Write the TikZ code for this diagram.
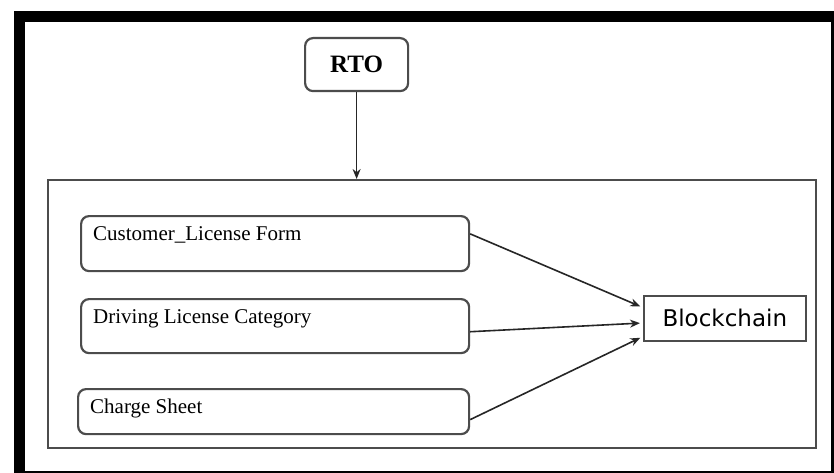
\documentclass[tikz,border=0pt]{standalone}
\usepackage{fontspec}
\setmainfont{Liberation Serif}
\newfontfamily\bcfont{DejaVu Sans}
\usetikzlibrary{arrows.meta,calc}
\begin{document}
\begin{tikzpicture}[x=1pt,y=-1pt,
  rbox/.style={draw=black!70,line width=2.2pt,rounded corners=8pt,inner sep=0pt,anchor=north west},
  lbl/.style={anchor=base west,inner sep=0pt,font=\fontsize{21}{24}\selectfont},
  arr/.style={draw=black!85,line width=1.6pt,-{Stealth[length=10pt,width=8pt]}},
]
\useasboundingbox (0,0) rectangle (834,473);
\fill[white] (0,0) rectangle (834,473);
% outer frame
\node[draw=black,line width=11pt,inner sep=0pt,minimum width=817pt,minimum height=460pt,anchor=north west] (frame) at (14,11) {};
% container
\node[draw=black!70,line width=1.6pt,inner sep=0pt,minimum width=768pt,minimum height=268pt,anchor=north west] (cont) at (47,179) {};
% RTO
\node[rbox,minimum width=103pt,minimum height=53pt,font=\fontsize{25}{28}\selectfont\bfseries] (rto) at (304,37) {RTO};
% left boxes
\node[rbox,minimum width=388pt,minimum height=55pt] (cust) at (80,215) {};
\node[lbl] (custt) at (93,240) {Customer\_License Form};
\node[rbox,minimum width=388pt,minimum height=54pt] (drv) at (80,298) {};
\node[lbl] (drvt) at (93,323) {Driving License Category};
\node[rbox,minimum width=391pt,minimum height=45pt] (chg) at (77,388) {};
\node[lbl] (chgt) at (90,413) {Charge Sheet};
% blockchain
\node[draw=black!70,line width=1.6pt,inner sep=0pt,minimum width=162pt,minimum height=45pt,anchor=north west,font=\bcfont\fontsize{23}{26}\selectfont] (bc) at (643,295) {Blockchain};
% arrows
\draw[arr] (rto.south) -- (rto.south |- cont.north);
\draw[arr,shorten >=3pt] ($(cust.north east)!0.33!(cust.south east)$) -- ($(bc.north west)!0.27!(bc.south west)$);
\draw[arr,shorten >=3pt] ($(drv.north east)!0.6!(drv.south east)$) -- ($(bc.north west)!0.6!(bc.south west)$);
\draw[arr,shorten >=3pt] ($(chg.north east)!0.67!(chg.south east)$) -- ($(bc.north west)!0.89!(bc.south west)$);
\end{tikzpicture}
\end{document}
